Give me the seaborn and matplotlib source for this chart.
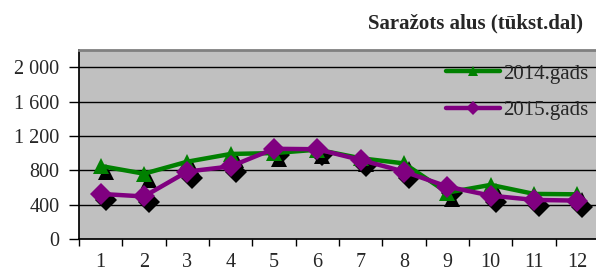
import matplotlib
matplotlib.use("Agg")
import matplotlib.pyplot as plt
import matplotlib.transforms as mtransforms
from matplotlib.lines import Line2D
import seaborn as sns
import pandas as pd
import numpy as np

months = [1, 2, 3, 4, 5, 6, 7, 8, 9, 10, 11, 12]
gads_2014 = [850, 760, 900, 990, 1000, 1040, 940, 880, 540, 630, 525, 520]
gads_2015 = [525, 495, 785, 845, 1050, 1045, 920, 785, 610, 505, 455, 447]
series_names = ["2014.gads", "2015.gads"]
y_ticks = [0, 400, 800, 1200, 1600, 2000]
y_tick_labels = ["0", "400", "800", "1 200", "1 600", "2 000"]
title = "Saražots alus (tūkst.dal)"

sns.set_theme(style="white")
plt.rcParams['font.family'] = ['Liberation Serif', 'DejaVu Serif']

df = pd.DataFrame({
    "month": months * 2,
    "value": gads_2014 + gads_2015,
    "series": [series_names[0]] * 12 + [series_names[1]] * 12,
})

colors = {"2014.gads": "#008000", "2015.gads": "#800080"}
markers = {"2014.gads": "^", "2015.gads": "D"}
msizes = {"2014.gads": 11, "2015.gads": 11}

fig = plt.figure(figsize=(5.96, 2.71), dpi=100)
ax = fig.add_axes([79/596, 32/271, 520/596, 189/271])
ax.set_facecolor("#C0C0C0")

# shadows
shadow = mtransforms.offset_copy(ax.transData, fig=fig, x=5, y=-6, units='dots')
for name, vals in zip(series_names, [gads_2014, gads_2015]):
    ax.plot(months, vals, linestyle='none', marker=markers[name], color='black',
            markersize=msizes[name], markeredgewidth=0, transform=shadow, zorder=2)

for name in series_names:
    sub = df[df.series == name]
    sns.lineplot(data=sub, x="month", y="value", ax=ax, color=colors[name],
                 linewidth=3.2, marker=markers[name], markersize=msizes[name],
                 markeredgewidth=0, zorder=3, legend=False)

ax.set_xlim(0.5, 12.5)
ax.set_ylim(0, 2200)
ax.set_yticks(y_ticks)
ax.set_yticklabels(y_tick_labels)
ax.set_xticks(months)
ax.set_xticklabels([str(m) for m in months])
ax.set_xticks(np.arange(0.5, 13, 1), minor=True)
ax.tick_params(axis='x', which='major', length=0, pad=10, labelsize=14.5)
ax.tick_params(axis='x', which='minor', length=5, width=1, color='black', direction='out', bottom=True)
ax.tick_params(axis='y', length=7, width=1, color='black', direction='out', left=True, labelsize=14.5, pad=7)
ax.set_xlabel("")
ax.set_ylabel("")
ax.grid(False)
for y in y_ticks[1:]:
    ax.axhline(y, color='black', linewidth=1.0, zorder=1)

ax.spines['left'].set_color('black')
ax.spines['bottom'].set_color('black')
ax.spines['top'].set_color('#808080')
ax.spines['top'].set_linewidth(2)
ax.spines['right'].set_visible(False)

handles = [Line2D([], [], color=colors[n], linewidth=3.2, marker=markers[n], markersize=7,
                  markeredgewidth=0) for n in series_names]
leg = ax.legend(handles, series_names, loc='upper right', bbox_to_anchor=(0.995, 0.97),
                frameon=False, fontsize=15, handlelength=2.6, handletextpad=0.15,
                labelspacing=0.8, borderaxespad=0)

fig.text(583/596, 1 - 23/271, title, ha='right', va='center', fontsize=15, fontweight='bold')

fig.savefig("out.png", dpi=100)
